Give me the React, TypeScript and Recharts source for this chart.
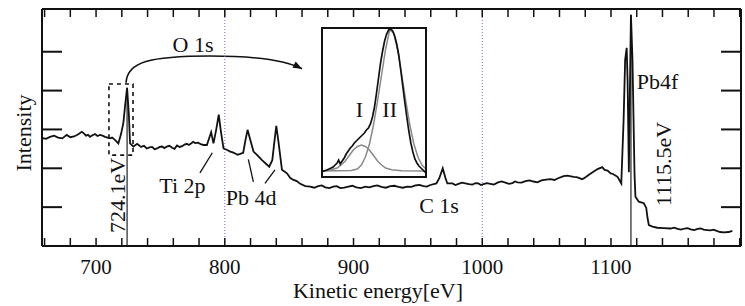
import { LineChart, Line, XAxis, YAxis, ReferenceLine, ReferenceArea, Customized } from "recharts";

// survey spectrum
const energy = [
  658.0, 664.2, 670.5, 677.2, 682.9, 688.9, 692.2, 695.3, 699.2, 703.1,
  707.0, 710.9, 714.0, 717.3, 719.4, 721.2, 722.6, 724.1, 725.5, 726.4,
  729.0, 731.9, 735.0, 739.4, 743.5, 747.4, 751.3, 754.9, 759.1, 762.9,
  766.9, 770.5, 773.8, 777.0, 779.3, 783.4, 786.1, 787.9, 789.4, 791.2,
  793.3, 795.3, 796.8, 799.0, 801.9, 804.2, 808.1, 812.0, 814.3, 815.9,
  817.7, 819.4, 822.3, 825.2, 828.9, 832.2, 834.5, 836.9, 838.4, 840.0,
  841.5, 844.4, 848.3, 850.9, 853.4, 855.9, 858.6, 862.5, 866.4, 872.6,
  878.1, 884.3, 889.7, 896.0, 902.2, 909.2, 915.4, 921.6, 928.6, 934.8,
  941.8, 948.1, 954.3, 959.7, 964.4, 966.7, 969.3, 971.4, 972.9, 976.8,
  981.5, 986.9, 992.4, 997.0, 1000.9, 1006.4, 1011.8, 1018.0, 1023.5, 1027.4,
  1033.6, 1039.8, 1046.0, 1053.0, 1059.3, 1063.1, 1066.3, 1070.9, 1075.6, 1078.9,
  1082.6, 1085.7, 1089.6, 1093.2, 1095.0, 1097.4, 1099.7, 1102.8, 1105.1, 1108.0,
  1109.8, 1111.0, 1112.2, 1112.9, 1113.9, 1114.8, 1115.5, 1116.7, 1118.3, 1119.0,
  1121.6, 1125.5, 1127.4, 1128.4, 1129.4, 1132.3, 1136.0, 1140.9, 1146.3, 1151.8,
  1157.2, 1161.9, 1167.3, 1172.0, 1177.4, 1182.1, 1187.6, 1191.4, 1194.3,
];
const intensity = [
  2.78, 2.81, 2.79, 2.86, 2.82, 2.94, 2.84, 2.81, 2.88, 2.86,
  2.81, 2.77, 2.75, 2.64, 2.88, 3.17, 3.63, 4.07, 3.37, 2.64,
  2.56, 2.63, 2.55, 2.51, 2.55, 2.51, 2.56, 2.56, 2.53, 2.59,
  2.57, 2.63, 2.64, 2.65, 2.66, 2.6, 2.6, 2.78, 2.93, 2.64,
  2.99, 3.38, 2.99, 2.51, 2.47, 2.43, 2.38, 2.37, 2.4, 2.7,
  2.99, 2.78, 2.43, 2.34, 2.21, 2.11, 2.04, 2.21, 2.65, 3.09,
  2.73, 1.96, 1.87, 1.75, 1.7, 1.67, 1.6, 1.54, 1.53, 1.54,
  1.51, 1.53, 1.49, 1.53, 1.51, 1.53, 1.54, 1.52, 1.54, 1.52,
  1.53, 1.56, 1.54, 1.57, 1.61, 1.75, 2.0, 1.75, 1.61, 1.61,
  1.6, 1.61, 1.58, 1.61, 1.59, 1.6, 1.63, 1.63, 1.62, 1.64,
  1.67, 1.66, 1.69, 1.72, 1.75, 1.8, 1.81, 1.78, 1.75, 1.74,
  1.83, 1.9, 1.98, 2.03, 1.96, 1.94, 1.87, 1.83, 1.78, 1.61,
  3.24, 4.79, 5.1, 4.27, 1.9, 4.27, 5.95, 4.79, 1.83, 1.27,
  1.14, 1.1, 0.98, 0.72, 0.54, 0.5, 0.47, 0.46, 0.45, 0.44,
  0.45, 0.43, 0.44, 0.42, 0.4, 0.39, 0.35, 0.36, 0.39,
];
// extra in-between readings of the baseline wiggle
const energyFine = [
  661.1, 667.4, 673.8, 680.0, 685.9, 690.5, 693.8, 697.2, 701.1, 705.0, 708.9, 712.4, 715.6,
  737.2, 741.5, 745.5, 749.4, 753.1, 757.0, 761.0, 764.9, 768.7, 772.1, 775.4, 781.3,
  806.2, 810.0,
  869.5, 875.3, 881.2, 887.0, 892.8, 899.1, 905.7, 912.3, 918.5, 925.1, 931.7, 938.3, 945.0, 951.2, 957.0,
  979.2, 984.2, 989.6, 994.7, 999.0, 1003.6, 1009.1, 1014.9, 1020.7, 1025.4, 1030.5, 1036.7, 1042.9,
  1049.5, 1056.1, 1061.2, 1073.2, 1077.2, 1101.2,
  1149.0, 1154.5, 1159.5, 1164.6, 1169.6, 1174.7, 1179.7, 1184.8,
];
const intensityFine = [
  2.76, 2.84, 2.77, 2.8, 2.87, 2.9, 2.86, 2.85, 2.83, 2.84, 2.79, 2.79, 2.7,
  2.58, 2.54, 2.49, 2.55, 2.52, 2.58, 2.5, 2.55, 2.61, 2.6, 2.68, 2.62,
  2.41, 2.35,
  1.5, 1.56, 1.49, 1.54, 1.5, 1.55, 1.49, 1.51, 1.56, 1.5, 1.55, 1.5, 1.52, 1.57, 1.53,
  1.57, 1.63, 1.59, 1.62, 1.57, 1.62, 1.58, 1.66, 1.6, 1.66, 1.63, 1.69, 1.64,
  1.71, 1.7, 1.77, 1.77, 1.72, 1.86,
  0.47, 0.42, 0.46, 0.41, 0.45, 0.41, 0.42, 0.36,
];

const xTicks = [700, 800, 900, 1000, 1100];
const minorTicks = [
  660, 680, 700, 720, 740, 760, 780, 800, 820, 840, 860, 880, 900, 920,
  940, 960, 980, 1000, 1020, 1040, 1060, 1080, 1100, 1120, 1140, 1160, 1180, 1200,
];
const yTicks = [1, 2, 3, 4, 5];
const guideLines = [800, 1000];

// O 1s inset: measured curve and the two fitted components
const insetU = [
  0, 3, 6, 9, 12, 14, 16, 17.5, 19, 21, 23, 25, 27, 29, 31, 33, 35, 37, 39, 41,
  43, 45, 47, 49, 51, 53, 55, 57, 59, 61, 63, 65, 67, 69, 71, 73, 75, 77, 79, 81,
  83, 85, 87, 89, 91, 93, 95, 97, 99, 101, 104,
];
const insetMeasured = [
  -1, 0, 1, 2.5, 4, 6, 8, 11, 7, 10, 13, 17, 20, 23, 25, 28, 30, 32, 34, 36,
  38, 41, 43, 47, 54, 64, 78, 93, 108, 120, 130, 137, 141, 142, 140, 135, 127, 116, 101, 85,
  69, 54, 40, 28, 19, 12, 8, 5, 3, 1, -2,
];
const compIU = [0, 10, 16, 20, 24, 28, 32, 36, 40, 44, 48, 52, 56, 60, 64, 70, 80, 104];
const compI = [0, 1.2, 3, 6, 10, 15.5, 21, 24.5, 26, 24.5, 21, 15.5, 10, 6, 3, 1.2, 0.3, 0];
const compIIU = [0, 30, 36, 40, 44, 48, 52, 56, 60, 64, 68, 72, 76, 80, 84, 88, 92, 96, 100, 104];
const compII = [0, 0.5, 2, 6, 14, 27, 46, 70, 96, 122, 141, 138, 121, 96, 70, 46, 27, 14, 6, 2];

const spectrum = [
  ...energy.map((e, i) => ({ e, v: intensity[i] })),
  ...energyFine.map((e, i) => ({ e, v: intensityFine[i] })),
].sort((a, b) => a.e - b.e);
const measured = insetU.map((u, i) => ({ u, w: insetMeasured[i] }));
const componentI = compIU.map((u, i) => ({ u, w: compI[i] }));
const componentII = compIIU.map((u, i) => ({ u, w: compII[i] }));

const E_MIN = 658;
const E_MAX = 1201;
const V_MAX = 6.1;
const W = 745;
const H = 306;
const M = { top: 9, right: 4, left: 42, bottom: 0 };
const X_AXIS_H = 60;
const PW = W - M.left - M.right;
const PH = H - M.top - M.bottom - X_AXIS_H;
const FONT = "'Liberation Serif', 'Times New Roman', serif";
const INK = "#111";

const sx = (e: number) => M.left + ((e - E_MIN) / (E_MAX - E_MIN)) * PW;
const sy = (v: number) => M.top + ((V_MAX - v) / V_MAX) * PH;

const labels = [
  { text: "O 1s", e: 775.3, v: 4.99, anchor: "middle" },
  { text: "Ti 2p", e: 767.1, v: 1.36, anchor: "middle" },
  { text: "Pb 4d", e: 820.4, v: 1.06, anchor: "middle" },
  { text: "C 1s", e: 966.4, v: 0.86, anchor: "middle" },
  { text: "Pb4f", e: 1120.0, v: 4.03, anchor: "start" },
];
const sideLabels = [
  { text: "724.1eV", e: 722.1, v: 1.3 },
  { text: "1115.5eV", e: 1147.0, v: 2.11 },
];
const leaders = [
  [780.7, 1.88, 790.3, 2.4],
  [818.3, 2.23, 822.2, 1.65],
  [839.0, 1.96, 831.2, 1.61],
];
// arrow from the O 1s box to the inset
const arc = [
  [723.3, 4.2], [724.0, 4.74], [741.9, 4.89], [788.5, 4.89],
  [823.5, 4.89], [846.8, 4.79], [860.0, 4.56],
];

const noTick = () => <g />;

function Overlay() {
  const p = arc.map(([e, v]) => [sx(e), sy(v)]);
  const d = `M${p[0][0]},${p[0][1]} C${p[1][0]},${p[1][1]} ${p[2][0]},${p[2][1]} ${p[3][0]},${p[3][1]} C${p[4][0]},${p[4][1]} ${p[5][0]},${p[5][1]} ${p[6][0]},${p[6][1]}`;
  const [tx, ty] = p[6];
  const a = Math.atan2(p[6][1] - p[5][1], p[6][0] - p[5][0]);
  const bx = tx - 9 * Math.cos(a);
  const by = ty - 9 * Math.sin(a);
  const head = `${tx},${ty} ${bx + 3.5 * Math.sin(a)},${by - 3.5 * Math.cos(a)} ${bx - 3.5 * Math.sin(a)},${by + 3.5 * Math.cos(a)}`;
  return (
    <g fontFamily={FONT} fill={INK}>
      <path d={d} fill="none" stroke={INK} strokeWidth={1.6} />
      <polygon points={head} fill={INK} />
      {labels.map((l) => (
        <text key={l.text} x={sx(l.e)} y={sy(l.v)} fontSize={22} textAnchor={l.anchor as any}>
          {l.text}
        </text>
      ))}
      {sideLabels.map((l) => (
        <text
          key={l.text}
          x={sx(l.e)}
          y={sy(l.v)}
          fontSize={22}
          textAnchor="middle"
          transform={`rotate(-90 ${sx(l.e)} ${sy(l.v)})`}
        >
          {l.text}
        </text>
      ))}
      <text x={31} y={133} fontSize={22} textAnchor="middle" transform="rotate(-90 31 133)">
        Intensity
      </text>
      <text x={378} y={298} fontSize={22} textAnchor="middle">
        Kinetic energy[eV]
      </text>
    </g>
  );
}

const IW = 106;
const IH = 151;
const U_MAX = 105;
const W_MIN = -7;
const W_MAX = 144;

function InsetLabels() {
  const ix = (u: number) => (u / U_MAX) * IW;
  const iy = (w: number) => ((W_MAX - w) / (W_MAX - W_MIN)) * IH;
  return (
    <g fontFamily={FONT} fill={INK} fontSize={22} textAnchor="middle">
      <text x={ix(38)} y={iy(54)}>I</text>
      <text x={ix(68)} y={iy(54)}>II</text>
    </g>
  );
}

function Inset() {
  return (
    <div style={{ position: "absolute", left: 321, top: 27, width: IW, height: IH, background: "#fff" }}>
      <LineChart width={IW} height={IH} margin={{ top: 0, right: 0, bottom: 0, left: 0 }}>
        <XAxis dataKey="u" type="number" domain={[0, U_MAX]} hide />
        <YAxis type="number" domain={[W_MIN, W_MAX]} hide allowDataOverflow />
        <Line data={componentI} dataKey="w" stroke="#8a8a8a" strokeWidth={1.5} dot={false} isAnimationActive={false} />
        <Line data={componentII} dataKey="w" stroke="#8a8a8a" strokeWidth={1.5} dot={false} isAnimationActive={false} />
        <Line data={measured} dataKey="w" stroke={INK} strokeWidth={1.7} dot={false} isAnimationActive={false} />
        <Customized component={InsetLabels} />
      </LineChart>
      <div
        style={{
          position: "absolute",
          inset: 0,
          border: `2px solid ${INK}`,
          boxSizing: "border-box",
          pointerEvents: "none",
        }}
      />
    </div>
  );
}

export default function App() {
  return (
    <div style={{ position: "relative", width: W, height: H, background: "#fff" }}>
      <style>{"body{margin:0}"}</style>
      <LineChart width={W} height={H} data={spectrum} margin={M}>
        <XAxis
          xAxisId="main"
          dataKey="e"
          type="number"
          domain={[E_MIN, E_MAX]}
          ticks={xTicks}
          interval={0}
          height={X_AXIS_H}
          tickLine={false}
          tickSize={6}
          tickMargin={7}
          axisLine={{ stroke: INK, strokeWidth: 2 }}
          tick={{ fontSize: 21, fill: INK, fontFamily: FONT }}
          allowDataOverflow
        />
        <XAxis
          xAxisId="bottomTicks"
          orientation="bottom"
          dataKey="e"
          type="number"
          domain={[E_MIN, E_MAX]}
          ticks={minorTicks}
          interval={0}
          mirror
          tick={noTick}
          tickSize={8}
          axisLine={false}
          tickLine={{ stroke: INK, strokeWidth: 1.5 }}
          allowDataOverflow
        />
        <XAxis
          xAxisId="top"
          orientation="top"
          dataKey="e"
          type="number"
          domain={[E_MIN, E_MAX]}
          ticks={minorTicks}
          interval={0}
          mirror
          tick={noTick}
          tickSize={8}
          axisLine={{ stroke: INK, strokeWidth: 2 }}
          tickLine={{ stroke: INK, strokeWidth: 1.5 }}
          allowDataOverflow
        />
        <YAxis
          yAxisId="main"
          type="number"
          domain={[0, V_MAX]}
          ticks={yTicks}
          interval={0}
          mirror
          tick={noTick}
          tickSize={20}
          axisLine={{ stroke: INK, strokeWidth: 2 }}
          tickLine={{ stroke: INK, strokeWidth: 2 }}
          allowDataOverflow
        />
        <YAxis
          yAxisId="right"
          orientation="right"
          type="number"
          domain={[0, V_MAX]}
          ticks={yTicks}
          interval={0}
          mirror
          tick={noTick}
          tickSize={20}
          axisLine={{ stroke: INK, strokeWidth: 2 }}
          tickLine={{ stroke: INK, strokeWidth: 2 }}
          allowDataOverflow
        />
        {guideLines.map((g) => (
          <ReferenceLine
            key={g}
            xAxisId="main"
            yAxisId="main"
            x={g}
            stroke="#6b6bff"
            strokeWidth={1}
            strokeDasharray="1 2"
          />
        ))}
        <ReferenceLine
          xAxisId="main"
          yAxisId="main"
          segment={[{ x: 724.1, y: 4.07 }, { x: 724.1, y: 0 }]}
          stroke="#333"
          strokeWidth={1.3}
        />
        <ReferenceLine
          xAxisId="main"
          yAxisId="main"
          segment={[{ x: 1115.5, y: 5.95 }, { x: 1115.5, y: 0 }]}
          stroke="#333"
          strokeWidth={1.3}
        />
        {leaders.map(([e1, v1, e2, v2], i) => (
          <ReferenceLine
            key={i}
            xAxisId="main"
            yAxisId="main"
            segment={[{ x: e1, y: v1 }, { x: e2, y: v2 }]}
            stroke={INK}
            strokeWidth={1.3}
          />
        ))}
        <ReferenceArea
          xAxisId="main"
          yAxisId="main"
          x1={710}
          x2={728.7}
          y1={2.34}
          y2={4.17}
          fill="none"
          fillOpacity={0}
          stroke={INK}
          strokeWidth={1.6}
          strokeDasharray="4 4"
        />
        {/* invisible copies so the frame axes get registered */}
        <Line xAxisId="top" yAxisId="right" dataKey="v" stroke="none" dot={false} activeDot={false} isAnimationActive={false} />
        <Line xAxisId="bottomTicks" yAxisId="right" dataKey="v" stroke="none" dot={false} activeDot={false} isAnimationActive={false} />
        <Line
          xAxisId="main"
          yAxisId="main"
          dataKey="v"
          type="linear"
          stroke={INK}
          strokeWidth={1.8}
          dot={false}
          isAnimationActive={false}
        />
        <Customized component={Overlay} />
      </LineChart>
      <Inset />
    </div>
  );
}
